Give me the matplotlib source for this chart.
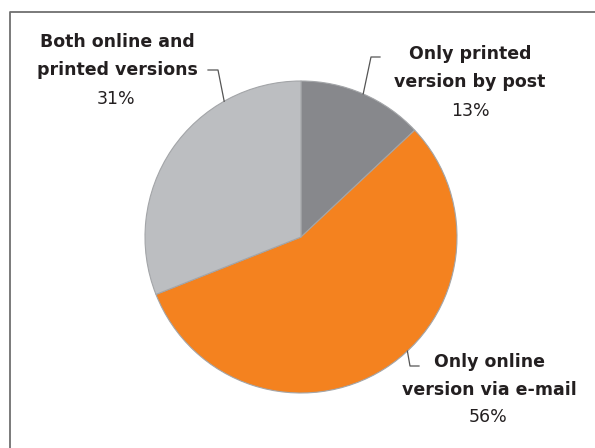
import numpy as np
import matplotlib
matplotlib.use("Agg")
import matplotlib.pyplot as plt

# data
labels = ["Only printed\nversion by post", "Only online\nversion via e-mail", "Both online and\nprinted versions"]
shares = [13, 56, 31]
colors = ["#87888c", "#f4821f", "#bcbec1"]

W, H = 595, 448
fig = plt.figure(figsize=(W / 100, H / 100), dpi=100)
ax = fig.add_axes([0, 0, 1, 1])

cx, cy, r = 301, H - 237, 156
wedges, _ = ax.pie(shares, colors=colors, startangle=90, counterclock=False,
                   center=(cx, cy), radius=r, frame=True,
                   wedgeprops=dict(edgecolor="#a3a5a8", linewidth=0.8))
ax.set_xlim(0, W)
ax.set_ylim(0, H)
ax.set_aspect("equal")
ax.axis("off")

# frame (left + top only, runs off the picture)
ax.plot([9.5, 9.5, W + 5], [-5, H - 11.5, H - 11.5], color="#707070", lw=1.3, clip_on=False)

# label boxes: text centre, percent centre, leader anchor (angle from top, clockwise), elbow
label_pos = [(470, H - 68), (489, H - 376), (117, H - 56)]
pct_pos = [(470, H - 111), (488, H - 417), (116, H - 99)]
anchor_deg = [23.5, 137, 330.5]
elbow = [[(371, H - 57), (380, H - 57)],
         [(410, H - 366), (419, H - 366)],
         [(218, H - 70), (208, H - 70)]]

for lab, sh, lp, pp, a, el in zip(labels, shares, label_pos, pct_pos, anchor_deg, elbow):
    t = np.deg2rad(a)
    x0, y0 = cx + r * np.sin(t), cy + r * np.cos(t)
    xs = [x0] + [p[0] for p in el]
    ys = [y0] + [p[1] for p in el]
    ax.plot(xs, ys, color="#555555", lw=0.9)
    ax.text(lp[0], lp[1], lab, ha="center", va="center", fontsize=12.5,
            fontweight="bold", family="DejaVu Sans", color="#231f20", linespacing=1.7)
    ax.text(pp[0], pp[1], f"{sh}%", ha="center", va="center", fontsize=12.5,
            family="DejaVu Sans", color="#231f20")

fig.savefig("out.png", dpi=100)
